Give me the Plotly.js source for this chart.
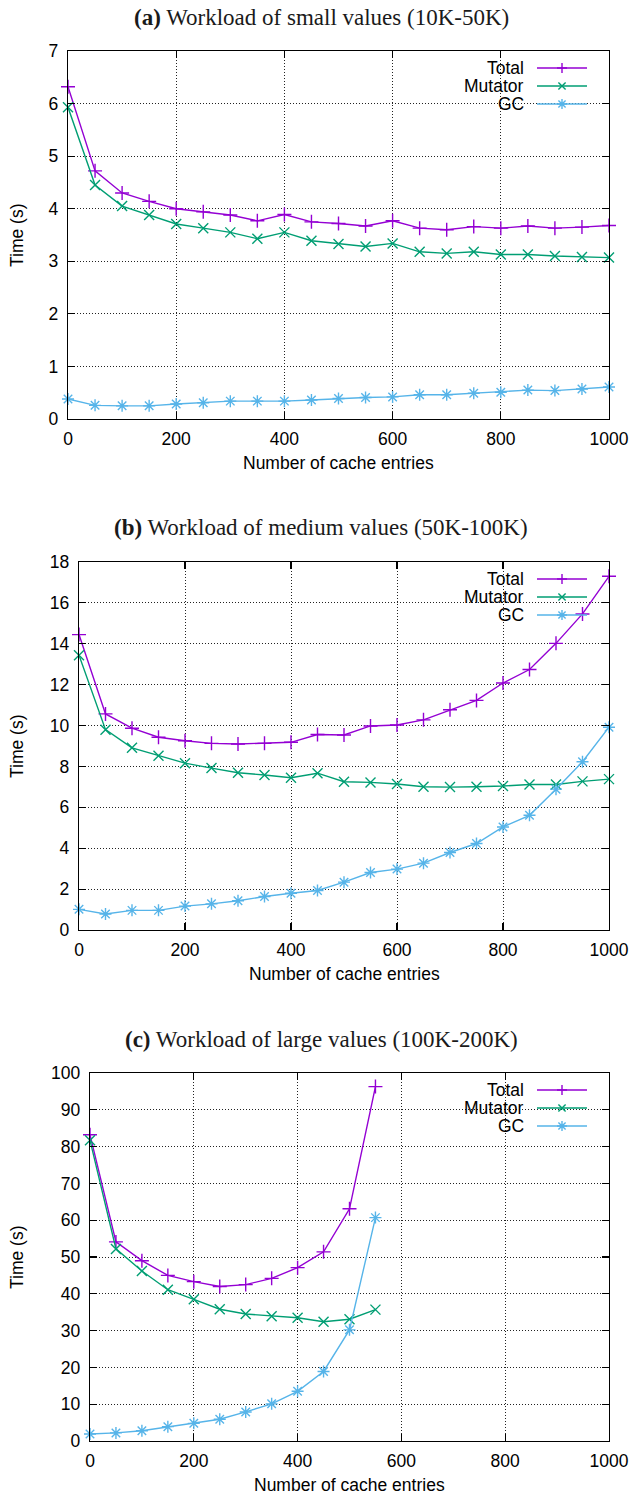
<!DOCTYPE html>
<html>
<head>
<meta charset="utf-8">
<script src="https://cdn.plot.ly/plotly-3.0.1.min.js"></script>
<style>html,body{margin:0;padding:0;background:#fff;}#chart{width:632px;height:1494px;}</style>
</head>
<body>
<div id="chart"></div>
<script>
// ---------- data ----------
const cacheEntries = [0,50,100,150,200,250,300,350,400,450,500,550,600,650,700,750,800,850,900,950,1000];
const cacheEntriesLarge = [0,50,100,150,200,250,300,350,400,450,500,550];

const smallTotal   = [6.32,4.72,4.30,4.14,4.00,3.94,3.88,3.77,3.89,3.75,3.72,3.67,3.77,3.63,3.60,3.66,3.63,3.67,3.63,3.65,3.68];
const smallMutator = [5.93,4.45,4.05,3.88,3.71,3.63,3.55,3.43,3.55,3.39,3.33,3.28,3.34,3.18,3.15,3.18,3.13,3.13,3.10,3.08,3.07];
const smallGC      = [0.38,0.26,0.25,0.25,0.285,0.31,0.34,0.34,0.34,0.36,0.39,0.41,0.42,0.46,0.46,0.49,0.51,0.55,0.54,0.57,0.61];

const mediumTotal   = [14.45,10.57,9.87,9.43,9.26,9.13,9.10,9.13,9.18,9.56,9.54,9.98,10.03,10.28,10.77,11.23,12.08,12.74,14.02,15.46,17.30];
const mediumMutator = [13.44,9.80,8.91,8.52,8.16,7.92,7.69,7.58,7.45,7.67,7.25,7.22,7.14,7.01,6.99,7.01,7.04,7.12,7.12,7.27,7.38];
const mediumGC      = [1.01,0.78,0.96,0.96,1.17,1.28,1.43,1.64,1.80,1.93,2.34,2.81,2.98,3.27,3.79,4.23,5.04,5.61,6.89,8.23,9.92];

const largeTotal   = [83.2,54.1,49.0,45.0,43.3,42.0,42.5,44.2,47.1,51.4,63.1,96.3];
const largeMutator = [81.7,52.2,46.2,41.1,38.5,35.8,34.5,33.9,33.5,32.4,33.1,35.7];
const largeGC      = [1.9,2.2,2.8,3.9,4.8,5.9,7.9,10.1,13.5,18.9,30.2,60.7];

const seriesNames = ['Total','Mutator','GC'];
const panelTitles = ['<b>(a)</b> Workload of small values (10K-50K)',
                     '<b>(b)</b> Workload of medium values (50K-100K)',
                     '<b>(c)</b> Workload of large values (100K-200K)'];
const xTitle = 'Number of cache entries';
const yTitle = 'Time (s)';
const yRanges = [[0,7],[0,18],[0,100]];
const yDticks = [1,2,10];

// ---------- styling ----------
const W = 632, H = 1494;
const colors = ['#9400d3','#009e73','#56b4e9'];
const symbols = ['cross-thin-open','x-thin-open','asterisk-open'];
const px = x => x / W;
const py = y => 1 - y / H;

// plot frames in page pixels [left, right, top, bottom]
const frames = [[68,609,51,419],[79,609,562,930],[90,609,1073,1441]];

const panelData = [
  [cacheEntries, [smallTotal, smallMutator, smallGC]],
  [cacheEntries, [mediumTotal, mediumMutator, mediumGC]],
  [cacheEntriesLarge, [largeTotal, largeMutator, largeGC]]
];

const traces = [];
panelData.forEach((pd, p) => {
  const sfx = p === 0 ? '' : String(p + 1);
  pd[1].forEach((vals, s) => {
    traces.push({
      type: 'scatter', mode: 'lines+markers',
      x: pd[0], y: vals, name: seriesNames[s],
      xaxis: 'x' + sfx, yaxis: 'y' + sfx,
      line: {color: colors[s], width: 1.4},
      marker: {symbol: symbols[s], size: 10, color: colors[s], line: {color: colors[s], width: 1.4}},
      cliponaxis: false, showlegend: false, hoverinfo: 'skip'
    });
  });
});

const tickFont = {family: 'Liberation Sans, Arial, sans-serif', size: 17.5, color: '#000'};
const layout = {
  width: W, height: H,
  margin: {l: 0, r: 0, t: 0, b: 0},
  paper_bgcolor: '#fff', plot_bgcolor: '#fff',
  showlegend: false,
  annotations: [], shapes: []
};

frames.forEach((f, p) => {
  const sfx = p === 0 ? '' : String(p + 1);
  const [L, R, T, B] = f;
  layout['xaxis' + sfx] = {
    domain: [px(L), px(R)], anchor: 'y' + sfx,
    range: [0, 1000], dtick: 200, tick0: 0,
    showline: true, linecolor: '#000', linewidth: 1.2, mirror: 'ticks',
    ticks: 'inside', ticklen: 7, tickcolor: '#000', tickwidth: 1.2,
    ticklabelstandoff: 4,
    showgrid: true, gridcolor: '#222', gridwidth: 1, griddash: '1px,2px',
    zeroline: false, tickfont: tickFont, fixedrange: true
  };
  layout['yaxis' + sfx] = {
    domain: [py(B), py(T)], anchor: 'x' + sfx,
    range: yRanges[p], dtick: yDticks[p], tick0: 0,
    showline: true, linecolor: '#000', linewidth: 1.2, mirror: 'ticks',
    ticks: 'inside', ticklen: 7, tickcolor: '#000', tickwidth: 1.2,
    ticklabelstandoff: 5,
    showgrid: true, gridcolor: '#222', gridwidth: 1, griddash: '1px,2px',
    zeroline: false, tickfont: tickFont, fixedrange: true
  };
  // panel title
  layout.annotations.push({
    xref: 'paper', yref: 'paper', x: px(321), y: py(T - 34),
    xanchor: 'center', yanchor: 'middle', showarrow: false,
    text: panelTitles[p],
    font: {family: 'Liberation Serif, Times New Roman, serif', size: 23, color: '#1a1a1a'}
  });
  // x title
  layout.annotations.push({
    xref: 'paper', yref: 'paper', x: px((L + R) / 2), y: py(B + 44),
    xanchor: 'center', yanchor: 'middle', showarrow: false,
    text: xTitle, font: tickFont
  });
  // y title
  layout.annotations.push({
    xref: 'paper', yref: 'paper', x: px(17), y: py((T + B) / 2),
    xanchor: 'center', yanchor: 'middle', showarrow: false, textangle: -90,
    text: yTitle, font: tickFont
  });
  // legend box (hides grid)
  layout.shapes.push({
    type: 'rect', xref: 'paper', yref: 'paper', layer: 'between',
    x0: px(449), x1: px(598), y0: py(T + 8), y1: py(T + 62),
    fillcolor: '#fff', line: {width: 0}
  });
  seriesNames.forEach((nm, s) => {
    const yy = T + 17 + s * 18;
    layout.annotations.push({
      xref: 'paper', yref: 'paper', x: px(526), y: py(yy),
      xanchor: 'right', yanchor: 'middle', showarrow: false,
      text: nm, font: tickFont
    });
    layout.shapes.push({
      type: 'line', xref: 'paper', yref: 'paper', layer: 'above',
      x0: px(537), x1: px(587), y0: py(yy), y1: py(yy),
      line: {color: colors[s], width: 1.4}
    });
    const cx = 562, r = 5, d = 3.6;
    let path = '';
    if (s === 0 || s === 2) {
      path += `M${px(cx - r)},${py(yy)} L${px(cx + r)},${py(yy)} M${px(cx)},${py(yy - r)} L${px(cx)},${py(yy + r)} `;
    }
    if (s === 1 || s === 2) {
      path += `M${px(cx - d)},${py(yy - d)} L${px(cx + d)},${py(yy + d)} M${px(cx - d)},${py(yy + d)} L${px(cx + d)},${py(yy - d)}`;
    }
    layout.shapes.push({
      type: 'path', xref: 'paper', yref: 'paper', layer: 'above',
      path: path.trim(), line: {color: colors[s], width: 1.4}
    });
  });
});

Plotly.newPlot('chart', traces, layout, {staticPlot: true, displayModeBar: false});
</script>
</body>
</html>
